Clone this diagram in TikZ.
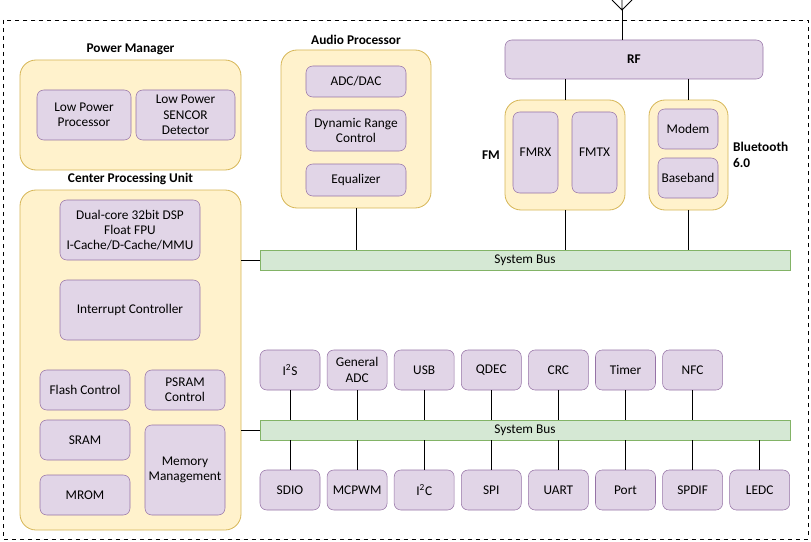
\documentclass[tikz,border=0pt]{standalone}
\usepackage{fontspec}
\setmainfont{Carlito}
\definecolor{yf}{HTML}{FFF2CC}\definecolor{yd}{HTML}{D6B656}
\definecolor{pf}{HTML}{E1D5E7}\definecolor{pd}{HTML}{9673A6}
\definecolor{gf}{HTML}{D5E8D4}\definecolor{gd}{HTML}{82B366}
\begin{document}
\begin{tikzpicture}[x=0.75pt,y=-0.75pt,
 cont/.style={draw=yd,fill=yf,rounded corners=12pt,line width=0.6pt},
 blk/.style={draw=pd,fill=pf,rounded corners=5pt,align=center,font=\fontsize{10}{11.5}\selectfont,inner sep=0pt},
 bus/.style={draw=gd,fill=gf,font=\fontsize{10}{11.5}\selectfont},
 ttl/.style={font=\bfseries\fontsize{10}{11.5}\selectfont,align=left},
 ln/.style={line width=0.6pt}]
\useasboundingbox (0,0) rectangle (811,542);
\draw[dashed] (3,20) rectangle (808,539);
% antenna
\coordinate (ant) at (622,10);
\draw[ln] (622,0) -- (ant) (612,0) -- (ant) -- (632,0);
% RF
\node[blk,font=\bfseries\fontsize{10}{11.5}\selectfont,minimum width=258pt*0.75,minimum height=39pt*0.75] (rf) at (634,59.5) {RF};
\draw[ln] (ant) -- (rf.north -| ant);
\node[cont,minimum width=90,minimum height=82.5,inner sep=0pt] (fm) at (565,155) {};
\node[blk,minimum width=33.75,minimum height=60.75] (fmrx) at (535.5,152.5) {FMRX};
\node[blk,minimum width=33.75,minimum height=60.75] (fmtx) at (594.5,152.5) {FMTX};
\node[cont,minimum width=59.25,minimum height=82.5,inner sep=0pt] (bt) at (688.5,155) {};
\node[blk,minimum width=45,minimum height=30] (modem) at (688,129) {Modem};
\node[blk,minimum width=45,minimum height=30] (bb) at (688,178) {Baseband};
\node[ttl,anchor=east] at (fm.west) {FM};
\node[ttl,anchor=west] at (bt.east) {Bluetooth\\6.0};
\draw[ln] (rf.south -| fm.north) -- (fm.north);
\draw[ln] (rf.south -| bt.north) -- (bt.north);
% buses
\node[bus,minimum width=397.5,minimum height=15,inner sep=0pt] (bus1) at (525,260) {System Bus};
\node[bus,minimum width=397.5,minimum height=15,inner sep=0pt] (bus2) at (525,430) {System Bus};
\draw[ln] (fm.south) -- (bus1.north -| fm.south);
\draw[ln] (bt.south) -- (bus1.north -| bt.south);
% audio
\node[cont,minimum width=112.5,minimum height=118.5,inner sep=0pt] (audio) at (356,129) {};
\node[ttl,anchor=south] at (audio.north) {Audio Processor};
\node[blk,minimum width=75,minimum height=23.25] (adc) at (356,81.5) {ADC/DAC};
\node[blk,minimum width=75,minimum height=30.75] (drc) at (356,130.5) {Dynamic Range\\Control};
\node[blk,minimum width=75,minimum height=24] (eq) at (356,180) {Equalizer};
\draw[ln] (audio.south) -- (bus1.north -| audio.south);
% power
\node[cont,minimum width=165.75,minimum height=82.5,inner sep=0pt] (pm) at (130.5,115) {};
\node[ttl,anchor=south] at (pm.north) {Power Manager};
\node[blk,minimum width=70.5,minimum height=37.5] (lpp) at (84,115) {Low Power\\Processor};
\node[blk,minimum width=74.25,minimum height=37.5] (lps) at (185.5,115) {Low Power\\SENCOR\\Detector};
% cpu
\node[cont,minimum width=165.75,minimum height=255,inner sep=0pt] (cpu) at (130.5,360) {};
\node[ttl,anchor=south] at (cpu.north) {Center Processing Unit};
\node[blk,minimum width=105,minimum height=45] (dsp) at (130,230) {Dual-core 32bit DSP\\Float FPU\\I-Cache/D-Cache/MMU};
\node[blk,minimum width=105,minimum height=45] (irq) at (130,310) {Interrupt Controller};
\node[blk,minimum width=67.5,minimum height=30] (flash) at (85,390) {Flash Control};
\node[blk,minimum width=60,minimum height=30] (psram) at (185,390) {PSRAM\\Control};
\node[blk,minimum width=67.5,minimum height=30] (sram) at (85,440) {SRAM};
\node[blk,minimum width=67.5,minimum height=30] (mrom) at (85,495) {MROM};
\node[blk,minimum width=60,minimum height=67.5] (mm) at (185,470) {Memory\\Management};
\draw[ln] (cpu.east |- bus1) -- (bus1.west);
\draw[ln] (cpu.east |- bus2) -- (bus2.west);
% peripherals
\foreach \n/\t [count=\i from 0] in {p1/{I\textsuperscript{2}S},p2/{General\\ADC},p3/USB,p4/QDEC,p5/CRC,p6/Timer,p7/NFC}{
 \node[blk,minimum width=45,minimum height=30] (\n) at ({290+\i*67.1},370) {\t};
 \draw[ln] (\n.south) -- (bus2.north -| \n.south);
}
\foreach \n/\t [count=\i from 0] in {q1/SDIO,q2/MCPWM,q3/{I\textsuperscript{2}C},q4/SPI,q5/UART,q6/Port,q7/SPDIF,q8/LEDC}{
 \node[blk,minimum width=45,minimum height=30] (\n) at ({290+\i*67.1},490) {\t};
 \draw[ln] (\n.north) -- (bus2.south -| \n.north);
}
\end{tikzpicture}
\end{document}
